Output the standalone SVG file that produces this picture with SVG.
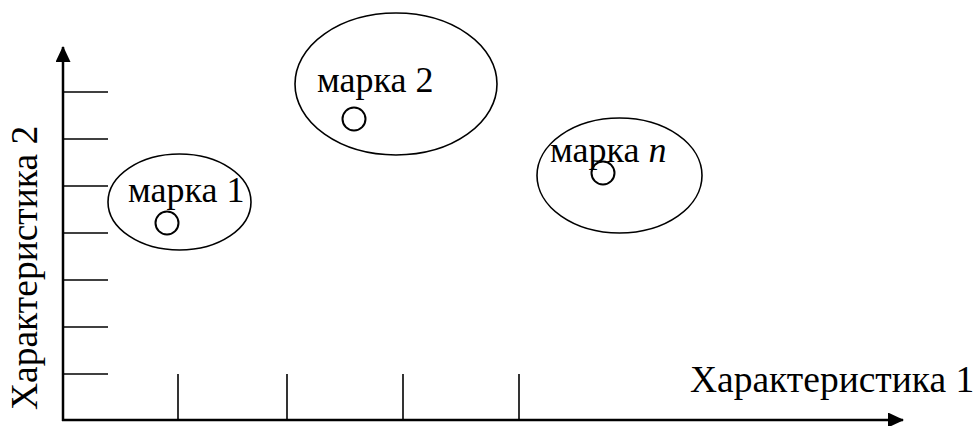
<svg xmlns="http://www.w3.org/2000/svg" width="973" height="426" viewBox="0 0 973 426">
<style>
.ax{stroke:#000;stroke-width:2.5;fill:none}
.tk{stroke:#000;stroke-width:1.6;fill:none}
.el{stroke:#000;stroke-width:1.6;fill:none}
.pt{stroke:#000;stroke-width:2;fill:#fff}
text{font-family:"Liberation Serif","Times New Roman",serif;font-size:36px;fill:#000}
.lab{font-size:37.5px}
</style>
<defs>
<marker id="ah" markerWidth="16" markerHeight="15" refX="15" refY="7.5" orient="auto" markerUnits="userSpaceOnUse">
<path d="M0,0 L16,7.5 L0,15 Z" fill="#000"/>
</marker>
</defs>
<g id="connectors">
<line class="ax" x1="63" y1="421" x2="63" y2="47" marker-end="url(#ah)"/>
<line class="ax" x1="62" y1="420" x2="903" y2="420" marker-end="url(#ah)"/>
<g id="yticks">
<line class="tk" x1="63" y1="92" x2="108" y2="92"/>
<line class="tk" x1="63" y1="139" x2="108" y2="139"/>
<line class="tk" x1="63" y1="186" x2="108" y2="186"/>
<line class="tk" x1="63" y1="233" x2="108" y2="233"/>
<line class="tk" x1="63" y1="280" x2="108" y2="280"/>
<line class="tk" x1="63" y1="327" x2="108" y2="327"/>
<line class="tk" x1="63" y1="374" x2="108" y2="374"/>
</g>
<g id="xticks">
<line class="tk" x1="178" y1="374" x2="178" y2="420"/>
<line class="tk" x1="287" y1="374" x2="287" y2="420"/>
<line class="tk" x1="403" y1="374" x2="403" y2="420"/>
<line class="tk" x1="519" y1="374" x2="519" y2="420"/>
</g>
</g>
<text id="xlabel" class="lab" x="690" y="392">Характеристика 1</text>
<text id="ylabel" class="lab" transform="translate(37,410) rotate(-90)">Характеристика 2</text>
<g id="mark1">
<ellipse class="el" cx="179.5" cy="202" rx="71.5" ry="48"/>
<text x="128" y="202">марка 1</text>
<circle class="pt" cx="167" cy="223" r="11.5"/>
</g>
<g id="mark2">
<ellipse class="el" cx="396" cy="84" rx="101" ry="71"/>
<text x="317" y="92">марка 2</text>
<circle class="pt" cx="354" cy="119" r="11.5"/>
</g>
<g id="markn">
<ellipse class="el" cx="619.5" cy="175.5" rx="82.5" ry="57.5"/>
<text x="550" y="162">марка <tspan font-style="italic">n</tspan></text>
<circle class="el" cx="603" cy="173" r="11.5" style="stroke-width:2"/>
</g>
</svg>
